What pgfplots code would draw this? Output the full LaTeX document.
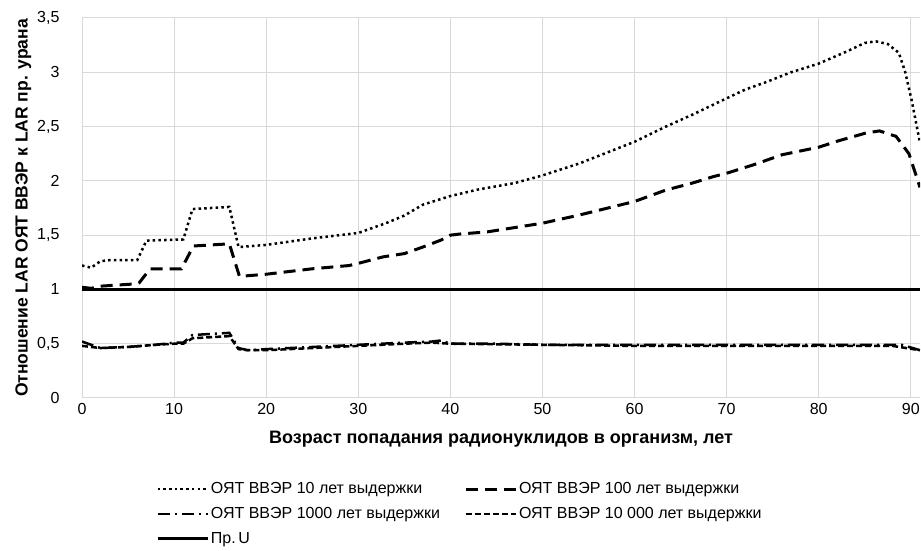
\documentclass[border=0pt]{standalone}
\usepackage{fontspec}
\setmainfont{Liberation Sans}
\usepackage{pgfplots}
\pgfplotsset{compat=1.18}
\begin{document}
\begin{tikzpicture}[x=1pt,y=1pt]
\useasboundingbox (0,0) rectangle (921,551);
\begin{axis}[
  at={(82pt,153pt)}, anchor=south west,
  scale only axis, width=838pt, height=380pt,
  xmin=0, xmax=91, ymin=0, ymax=3.5,
  xtick={0,10,...,90}, ytick={0,0.5,...,3.5},
  grid=major, major grid style={draw=gray!30, line width=1pt},
  axis line style={draw=none}, major tick length=0pt,
  tick label style={font=\fontsize{16}{18}\selectfont},
  /pgf/number format/assume math mode=true,
  /pgf/number format/use comma,
  yticklabel style={xshift=-19pt},
  xticklabel style={yshift=-2pt},
  xlabel={Возраст попадания радионуклидов в организм, лет},
  ylabel={Отношение LAR ОЯТ ВВЭР к LAR пр. урана},
  label style={font=\bfseries\fontsize{17.5}{20}\selectfont},
  xlabel style={yshift=-9pt, font=\bfseries\fontsize{18}{20}\selectfont},
  ylabel style={yshift=-1pt},
  clip=true,
  legend columns=2,
  legend cell align=left,
  legend style={at={(0.085,-0.212)}, anchor=north west, draw=none, fill=none,
    font=\fontsize{16}{18}\selectfont, row sep=8pt,
    /tikz/every even column/.append style={column sep=22pt}},
  legend image code/.code={\draw[#1] (0pt,0pt) -- (50pt,0pt);},
]
\addplot[black, line width=2.5pt, dash pattern=on 2.5pt off 3.2pt] coordinates {
(0,1.22) (1,1.20) (2,1.26) (3,1.27) (6,1.27) (7,1.45) (11,1.46) (12,1.74) (16,1.76) (17,1.39)
(20,1.41) (25,1.47) (30,1.52) (33,1.61) (35,1.68) (37,1.78) (40,1.86) (43,1.92) (47,1.98)
(50,2.05) (54,2.16) (57.6,2.28) (60,2.36) (63.4,2.50) (66.3,2.61) (69,2.72) (72,2.84)
(74.3,2.91) (77,3.00) (80,3.08) (83,3.19) (85,3.27) (86.2,3.285) (87.5,3.26) (88.7,3.18)
(89.4,3.0) (90.1,2.74) (91,2.35)};
\addlegendentry{ОЯТ ВВЭР 10 лет выдержки}
\addplot[black, line width=3pt, dash pattern=on 12pt off 7pt] coordinates {
(0,1.02) (1,1.01) (2,1.03) (5.6,1.05) (6.2,1.06) (7.4,1.19) (10.8,1.19) (12.1,1.40) (16,1.42)
(17.1,1.12) (20,1.14) (25,1.19) (29,1.22) (30,1.24) (32.7,1.30) (35,1.33) (37,1.39) (39,1.455)
(40,1.50) (41,1.51) (44,1.53) (50,1.61) (54,1.685) (57.6,1.76) (60,1.81) (63.4,1.915)
(66.3,1.98) (68.6,2.04) (70,2.07) (73,2.15) (76,2.24) (80,2.31) (82.2,2.37) (85.1,2.44)
(86.6,2.46) (88.4,2.41) (89.8,2.25) (91,1.94)};
\addlegendentry{ОЯТ ВВЭР 100 лет выдержки}
\addplot[black, line width=2.5pt, dash pattern=on 12pt off 5pt on 2pt off 5pt] coordinates {
(0,0.52) (1,0.49) (2,0.46) (5,0.47) (8,0.49) (10,0.51) (11,0.51) (12,0.58) (14,0.59) (16,0.60)
(17,0.46) (18,0.44) (20,0.45) (25,0.47) (30,0.49) (35,0.51) (38,0.52) (39,0.53) (40,0.50)
(45,0.50) (50,0.49) (60,0.49) (70,0.49) (80,0.49) (88,0.49) (89,0.49) (91,0.44)};
\addlegendentry{ОЯТ ВВЭР 1000 лет выдержки}
\addplot[black, line width=2.5pt, dash pattern=on 6pt off 3pt] coordinates {
(0,0.48) (2,0.46) (5,0.47) (8,0.49) (10,0.50) (11,0.50) (12,0.55) (16,0.57) (17,0.45) (18,0.44)
(20,0.44) (25,0.46) (30,0.48) (35,0.50) (38,0.51) (40,0.50) (50,0.49) (60,0.48) (70,0.48)
(80,0.48) (88,0.48) (91,0.44)};
\addlegendentry{ОЯТ ВВЭР 10 000 лет выдержки}
\addplot[black, line width=2.5pt] coordinates {(0,1) (91,1)};
\addlegendentry{Пр.\,U}
\end{axis}
\end{tikzpicture}
\end{document}
